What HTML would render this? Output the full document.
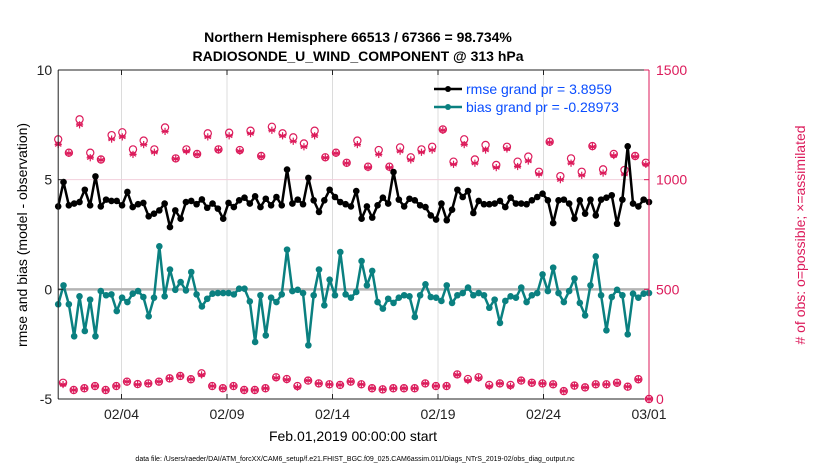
<!DOCTYPE html>
<html><head><meta charset="utf-8"><style>
body{margin:0;background:#fff;}
svg{display:block;font-family:"Liberation Sans",sans-serif;}
</style></head><body>
<svg id="chart" width="830" height="470" viewBox="0 0 830 470">
<text x="358" y="42" text-anchor="middle" font-size="14" font-weight="bold">Northern Hemisphere 66513 / 67366 = 98.734%</text>
<text x="358" y="61" text-anchor="middle" font-size="14" font-weight="bold">RADIOSONDE_U_WIND_COMPONENT @ 313 hPa</text>
<g id="grid"></g>
<g id="marks"></g>
<g id="axes"></g>
<g id="legend">
<line x1="434" y1="89" x2="462" y2="89" stroke="#000" stroke-width="2.5"/>
<circle cx="448" cy="89" r="3" fill="#000"/>
<text x="466" y="94" font-size="14" fill="#0a4dff">rmse grand pr = 3.8959</text>
<line x1="434" y1="107" x2="462" y2="107" stroke="#0a8080" stroke-width="2.5"/>
<circle cx="448" cy="107" r="3" fill="#0a8080"/>
<text x="466" y="112" font-size="14" fill="#0a4dff">bias grand pr = -0.28973</text>
</g>
<text transform="translate(27,235) rotate(-90)" text-anchor="middle" font-size="14">rmse and bias (model - observation)</text>
<text transform="translate(805,235) rotate(-90)" text-anchor="middle" font-size="14" fill="#dc1b5b"># of obs: o=possible; ×=assimilated</text>
<text x="353" y="441" text-anchor="middle" font-size="14">Feb.01,2019 00:00:00 start</text>
<text x="355" y="461" text-anchor="middle" font-size="7">data file: /Users/raeder/DAI/ATM_forcXX/CAM6_setup/f.e21.FHIST_BGC.f09_025.CAM6assim.011/Diags_NTrS_2019-02/obs_diag_output.nc</text>
</svg>
<script>
const rmse=[3.78,4.89,3.83,3.91,3.98,4.54,3.83,5.15,3.78,4.09,4.03,4.03,3.83,4.44,3.75,3.88,3.94,3.33,3.45,3.60,3.91,2.84,3.60,3.22,3.98,4.03,3.88,4.10,3.72,3.91,3.68,3.22,3.94,3.75,4.06,4.18,3.91,4.24,3.75,4.13,3.83,4.21,3.83,5.46,3.91,4.09,3.88,5.08,4.06,3.53,4.06,4.54,4.21,3.98,3.88,3.78,
4.48,3.22,3.78,3.27,3.83,4.18,3.91,5.35,4.09,3.78,4.13,4.06,3.83,3.75,3.37,3.18,3.91,3.15,3.63,4.54,4.21,4.48,3.48,4.03,3.88,3.88,3.91,4.03,3.75,4.18,3.91,3.91,3.88,4.06,4.21,4.36,4.06,3.02,4.06,4.09,3.91,3.22,4.06,3.45,4.09,3.37,4.09,4.18,4.29,2.99,4.09,6.52,3.91,3.78,4.09,3.98];
const bias=[-0.68,0.18,-0.68,-2.14,-0.32,-1.90,-0.47,-2.14,-0.08,-0.27,-0.23,-0.99,-0.38,-0.58,-0.20,-0.08,-0.35,-1.23,-0.38,1.96,-0.32,0.90,-0.02,0.33,-0.05,0.79,-0.23,-0.78,-0.43,-0.20,-0.17,-0.17,-0.17,-0.23,0.03,0.03,-0.55,-2.40,-0.27,-2.10,-0.38,-0.58,-0.23,1.81,-0.08,-0.02,-0.17,-2.55,-0.27,0.90,-0.73,0.44,-0.27,1.70,-0.23,-0.38,
-0.12,1.29,0.18,0.84,-0.58,-0.88,-0.43,-0.62,-0.38,-0.27,-0.32,-1.26,-0.27,0.23,-0.35,-0.38,-0.53,0.18,-0.62,-0.27,-0.17,0.08,-0.27,-0.17,-0.27,-0.84,-0.47,-1.53,-0.53,-0.32,-0.38,0.08,-0.58,-0.27,-0.17,0.68,-0.08,0.99,-0.17,-0.58,-0.08,0.49,-0.62,-1.19,0.18,1.50,-0.27,-1.87,-0.35,-0.02,-0.27,-2.05,-0.20,-0.38,-0.20,-0.17];
const possTop=[1184,1123,1275,1123,1092,1203,1216,1138,1178,1138,1238,1097,1138,1117,1211,1138,1214,1135,1223,1108,1241,1211,1193,1165,1223,1102,1123,1077,
1178,1059,1135,1059,1147,1102,1138,1150,1229,1082,1184,1092,1158,1067,1150,1082,1105,1036,1173,1016,1097,1036,1153,1047,1117,1044,1108,1077];
const assimTop=[1160,1120,1250,1100,1090,1185,1195,1115,1160,1125,1220,1095,1130,1115,1195,1135,1200,1130,1210,1105,1225,1200,1175,1150,1200,1100,1120,1075,
1160,1055,1115,1055,1130,1090,1125,1135,1225,1070,1160,1075,1135,1055,1140,1060,1085,1025,1170,1000,1075,1020,1150,1030,1110,1025,1105,1070];
const possBot=[74,41,49,59,41,59,79,68,71,79,94,105,90,117,59,49,59,41,41,49,99,91,59,84,71,67,64,79,67,49,44,49,49,49,71,59,59,112,91,99,64,71,64,84,74,71,67,36,61,53,67,67,74,56,90,0];
const assimBot=[66,41,49,59,41,59,79,66,71,79,94,105,90,110,59,49,59,41,41,49,96,88,54,84,71,67,64,79,67,49,44,49,49,49,71,59,59,110,84,95,58,71,58,84,74,71,67,36,61,53,67,67,72,56,88,0];
const leftTicks=[10,5,0,-5];
const rightTicks=[1500,1000,500,0];
const dayTicks=[3,8,13,18,23,28];
const dayLabels=["02/04","02/09","02/14","02/19","02/24","03/01"];

const X0=58.2,X1=649,Y0=70,Y1=399,DAYS=28;
const xs=d=>X0+(X1-X0)*d/DAYS;
const yl=v=>Y1-(v+5)/15*(Y1-Y0);
const yr=v=>Y1-v/1500*(Y1-Y0);
const NS="http://www.w3.org/2000/svg";
function mk(parent,tag,attrs){const e=document.createElementNS(NS,tag);for(const k in attrs)e.setAttribute(k,attrs[k]);parent.appendChild(e);return e;}
const grid=document.getElementById('grid'),marks=document.getElementById('marks'),axes=document.getElementById('axes');
const PINK="#dc1b5b",TEAL="#0a8080";
dayTicks.forEach((d,i)=>{
  const g=mk(grid,'line',{x1:xs(d),x2:xs(d),y1:Y0,y2:Y1,stroke:'#dcdcdc','stroke-width':1});
  
  
  const t=mk(axes,'line',{x1:xs(d),x2:xs(d),y1:Y1,y2:Y1-5,stroke:'#222'});
  
  
  const t2=mk(axes,'line',{x1:xs(d),x2:xs(d),y1:Y0,y2:Y0+5,stroke:'#222'});
  
  
  const l=mk(axes,'text',{x:xs(d),y:Y1+20,'text-anchor':'middle','font-size':14,fill:'#222'});
  l.textContent=dayLabels[i];
  
  
});
const g5=mk(grid,'line',{x1:X0,x2:X1,y1:yr(1000),y2:yr(1000),stroke:'#f3cfdc','stroke-width':1});


const z=mk(grid,'line',{x1:X0,x2:X1,y1:yl(0),y2:yl(0),stroke:'#b4b4b4','stroke-width':2.5});



function star(cx,cy){
  const g=mk(marks,'g',{stroke:PINK,'stroke-width':1.2});
  
  
  const r=3.6;
  for(let a=0;a<3;a++){const an=Math.PI/3*a+Math.PI/2;mk(g,'line',{x1:cx-r*Math.cos(an),y1:cy-r*Math.sin(an),x2:cx+r*Math.cos(an),y2:cy+r*Math.sin(an)});}
  mk(g,'line',{x1:cx-r,y1:cy,x2:cx+r,y2:cy});
}
function pinkSeries(poss,assim,t0,t1){
  const n=poss.length;
  for(let i=0;i<n;i++){
    const d=t0+(t1-t0)*i/(n-1);
    const c=mk(marks,'circle',{cx:xs(d),cy:yr(poss[i]),r:3.6,fill:'none',stroke:PINK,'stroke-width':1.2});
    
    
    star(xs(d),yr(assim[i]));
  }
}
pinkSeries(possTop,assimTop,0,27.85);
pinkSeries(possBot,assimBot,0.23,28);

function lineSeries(vals,color,name){
  const n=vals.length;
  const pts=vals.map((v,i)=>[xs(DAYS*i/(n-1)),yl(v)]);
  const p=mk(marks,'polyline',{points:pts.map(p=>p.join(',')).join(' '),fill:'none',stroke:color,'stroke-width':2.5,'stroke-linejoin':'round'});
  
  
  pts.forEach(q=>{
    const c=mk(marks,'circle',{cx:q[0],cy:q[1],r:3.3,fill:color});
    
    
  });
}
lineSeries(bias,TEAL,'bias');
lineSeries(rmse,'#000','rmse');

const frame=[[X0,Y0,X1,Y0,'#222'],[X0,Y1,X1,Y1,'#222'],[X0,Y0,X0,Y1,'#222'],[X1,Y0,X1,Y1,PINK]];
frame.forEach(f=>{
  const l=mk(axes,'line',{x1:f[0],y1:f[1],x2:f[2],y2:f[3],stroke:f[4],'stroke-width':1});
  
  
});
leftTicks.forEach(v=>{
  const t=mk(axes,'line',{x1:X0,x2:X0+5,y1:yl(v),y2:yl(v),stroke:'#222'});
  
  
  const l=mk(axes,'text',{x:X0-6,y:yl(v)+5,'text-anchor':'end','font-size':14,fill:'#222'});
  l.textContent=v;
  
  
});
rightTicks.forEach(v=>{
  const t=mk(axes,'line',{x1:X1,x2:X1-5,y1:yr(v),y2:yr(v),stroke:PINK});
  
  
  const l=mk(axes,'text',{x:X1+7,y:yr(v)+5,'text-anchor':'start','font-size':14,fill:PINK});
  l.textContent=v;
  
  
});
</script>
</body></html>
